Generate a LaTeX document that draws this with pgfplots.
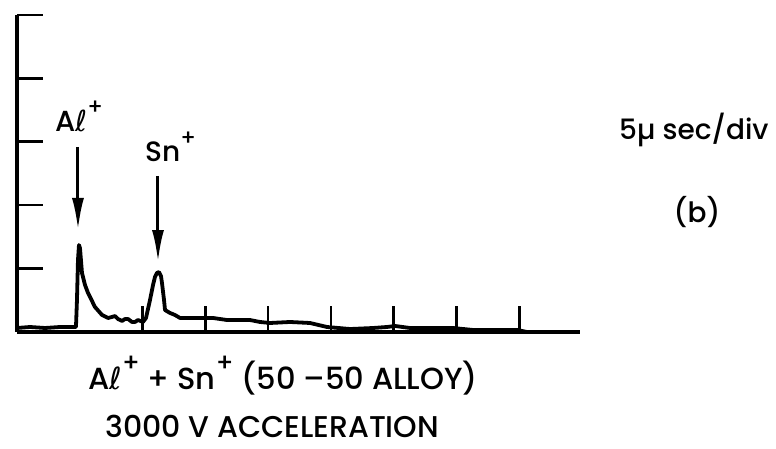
\documentclass[border=0pt]{standalone}
\usepackage{fontspec}
\setmainfont{Poppins}[UprightFont=*-Medium]
\newfontfamily\dv{DejaVu Sans}
\usepackage{pgfplots}
\pgfplotsset{compat=1.18}
\usetikzlibrary{arrows.meta}
\newcommand{\plussup}{\raisebox{0.6em}{\fontsize{22pt}{22pt}\selectfont +}}
\newcommand{\plussupb}{\raisebox{0.6em}{\fontsize{25pt}{25pt}\selectfont +}}
\begin{document}
\begin{tikzpicture}[x=1pt,y=1pt]
\useasboundingbox (0,0) rectangle (776,449);
\begin{axis}[at={(17pt,117pt)}, anchor=south west, scale only axis,
  width=563pt, height=317pt,
  xmin=0, xmax=8.965, ymin=0, ymax=5,
  axis x line=bottom, axis y line=left,
  axis line style={-, line width=3.2pt},
  xtick={2,...,8}, ytick={1,...,5},
  xticklabels={}, yticklabels={},
  tick align=inside, major tick length=26pt,
  tick style={line width=2.6pt, black},
  clip=false]
\addplot[black, line width=3.8pt, line join=round, no markers] coordinates {
(0,0.063) (0.207,0.079) (0.446,0.063) (0.685,0.079) (0.876,0.079) (0.939,0.079)
(0.955,0.505) (0.971,1.136) (0.987,1.372) (1.003,1.325) (1.035,0.931) (1.083,0.741)
(1.131,0.615) (1.242,0.394) (1.354,0.268) (1.449,0.221) (1.513,0.237) (1.561,0.252)
(1.608,0.205) (1.672,0.174) (1.720,0.205) (1.768,0.205) (1.831,0.158) (1.879,0.158)
(1.927,0.189) (2.006,0.158) (2.054,0.221) (2.118,0.505) (2.166,0.741) (2.197,0.868)
(2.229,0.931) (2.261,0.946) (2.293,0.883) (2.309,0.773) (2.341,0.505) (2.357,0.347)
(2.436,0.300) (2.516,0.268) (2.596,0.221) (2.755,0.221) (2.914,0.221) (3.121,0.221)
(3.344,0.189) (3.710,0.189) (3.869,0.158) (4.029,0.142) (4.347,0.158) (4.666,0.142)
(4.936,0.079) (5.303,0.047) (5.669,0.063) (5.892,0.079) (6.019,0.095) (6.258,0.063)
(6.943,0.063) (7.261,0.032) (7.962,0.032) (8.121,0)
};
\draw[line width=3pt, -{Latex[length=32pt,width=12pt]}] (axis cs:0.971,2.918) -- (axis cs:0.971,1.609);
\draw[line width=3pt, -{Latex[length=32pt,width=12pt]}] (axis cs:2.245,2.461) -- (axis cs:2.245,1.104);
\end{axis}
\node[anchor=base west, inner sep=0pt, font=\fontsize{29pt}{32pt}\selectfont] at (55,317) {A{\dv ℓ}\plussup};
\node[anchor=base west, inner sep=0pt, font=\fontsize{28pt}{32pt}\selectfont] at (145,287) {Sn\plussup};
\node[anchor=base west, inner sep=0pt, font=\fontsize{28pt}{32pt}\selectfont] at (619,309) {5µ sec/div};
\node[anchor=center, inner sep=0pt, font=\fontsize{28pt}{32pt}\selectfont] at (697,237) {(b)};
\node[anchor=base west, inner sep=0pt, font=\fontsize{30.5pt}{34pt}\selectfont] at (88,59) {A{\dv ℓ}\plussupb{} + Sn\plussupb{} (50 –50 ALLOY)};
\node[anchor=base west, inner sep=0pt, font=\fontsize{30pt}{34pt}\selectfont] at (105,11) {3000 V ACCELERATION};
\end{tikzpicture}
\end{document}
